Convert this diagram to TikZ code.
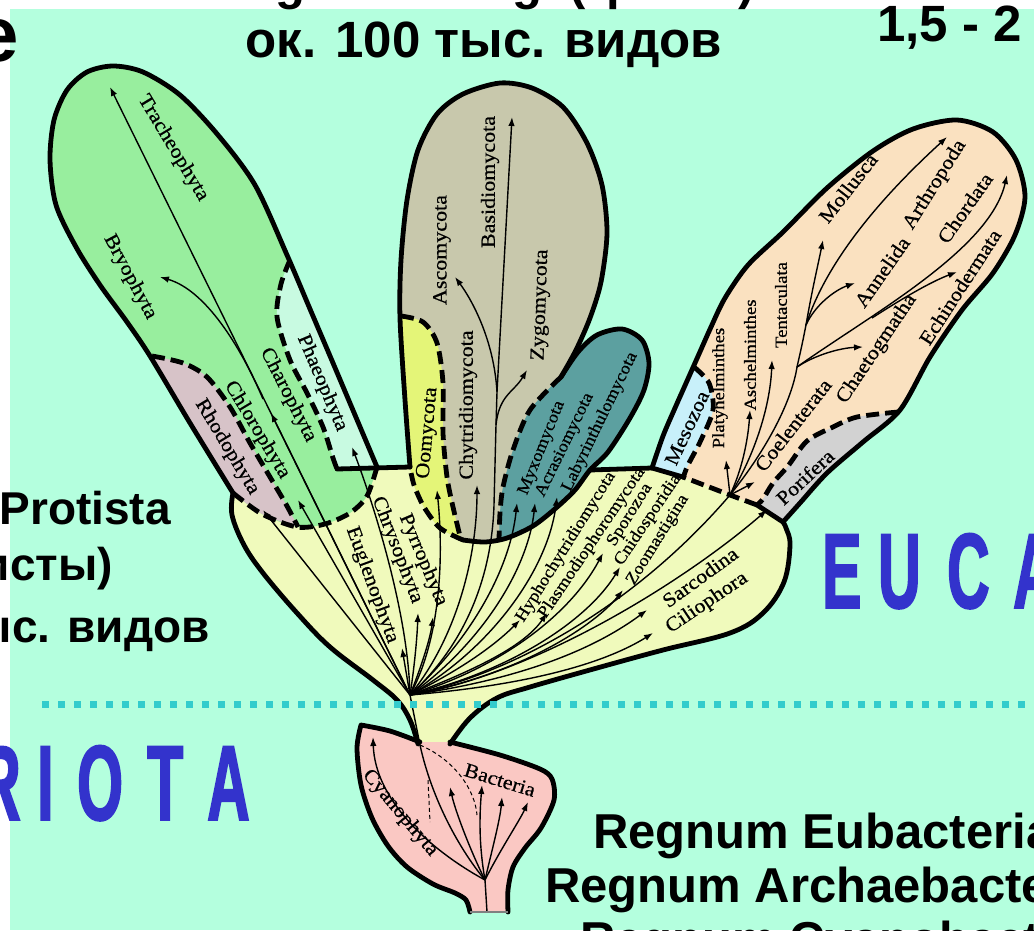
\documentclass[tikz,border=0pt]{standalone}
\usepackage{fontspec}
\setmainfont{Liberation Sans}
\newfontfamily\labfont[FakeStretch=1.1,FakeBold=0.6]{Liberation Serif}
\newfontfamily\blfont[FakeStretch=0.55,FakeBold=1.5]{Liberation Sans}
\usetikzlibrary{arrows.meta}
\definecolor{bg}{RGB}{180,255,222}
\definecolor{plantg}{RGB}{152,238,158}
\definecolor{phaeo}{RGB}{200,250,225}
\definecolor{rhodo}{RGB}{215,195,200}
\definecolor{protist}{RGB}{240,250,188}
\definecolor{oomy}{RGB}{228,245,120}
\definecolor{fungi}{RGB}{200,200,172}
\definecolor{myxo}{RGB}{92,160,160}
\definecolor{meso}{RGB}{200,240,250}
\definecolor{animal}{RGB}{250,225,192}
\definecolor{pori}{RGB}{210,210,210}
\definecolor{bact}{RGB}{250,200,195}
\definecolor{dotc}{RGB}{51,204,204}
\definecolor{eublue}{RGB}{51,51,204}
\begin{document}
\begin{tikzpicture}[x=1pt,y=-1pt,
  outl/.style={line width=4.8pt, line join=round, line cap=round},
  dsh/.style={line width=4.8pt, dash pattern=on 13pt off 6pt},
  arr/.style={line width=1.4pt, -{Latex[length=9pt,width=6.5pt]}},
  ln/.style={line width=1.4pt},
  dln/.style={line width=1pt, dash pattern=on 4pt off 3pt},
  lab/.style={font=\labfont\fontsize{20}{20}\selectfont, inner sep=0pt},
  slab/.style={font=\labfont\fontsize{17}{17}\selectfont, inner sep=0pt},
  big/.style={font=\bfseries\fontsize{49}{49}\selectfont, inner sep=0pt},
  mid/.style={font=\bfseries\fontsize{46}{46}\selectfont, inner sep=0pt},
  blu/.style={font=\blfont\bfseries\fontsize{107}{107}\selectfont, text=eublue, inner sep=0pt, anchor=base west},
]
\useasboundingbox (0,0) rectangle (1034,930);
\clip (0,0) rectangle (1034,930);
\fill[white] (0,0) rectangle (1034,930);
\fill[bg] (10,9) rectangle (1034,930);

% ---------- protist (yellow) region ----------
\fill[protist] plot[smooth,tension=0.6] coordinates {(233,493) (232,515) (244,545) (263,573) (297,613) (330,647) (373,680) (397,700) (410,720) (418,744)}
 -- plot[smooth,tension=0.6] coordinates {(450,744) (470,718) (497,698) (530,687) (597,668) (663,650) (730,633) (763,613) (784,582) (790,545) (786,528) (783,522)}
 -- (757,505) -- (683,477) -- (652,468) -- (590,470) -- (410,467) -- (377,467) -- cycle;

% ---------- plant lobe ----------
\fill[plantg] plot[smooth] coordinates {(377,467) (355,415) (333,363) (310,309) (287,255) (255,185) (218,135) (180,95) (143,72) (113,66) (87,72) (67,90) (54,120) (50,160) (56,205) (76,247) (100,285) (127,322) (150,356) (190,423) (233,493)}
 -- plot[smooth] coordinates {(233,493) (262,514) (297,527) (325,524) (350,513) (367,496) (377,467)} -- cycle;
\fill[rhodo] plot[smooth] coordinates {(152,356) (183,363) (207,377) (230,407) (250,443) (270,477) (287,506) (298,527)} -- plot[smooth] coordinates {(297,527) (262,514) (233,493)} -- (190,423) -- (150,356) -- cycle;
\fill[phaeo] plot[smooth] coordinates {(290,260) (281,284) (277,317) (290,360) (307,393) (323,427) (333,458) (337,469)} -- (377,467) -- (287,255) -- cycle;

% ---------- fungi lobe ----------
\fill[fungi] plot[smooth] coordinates {(410,467) (405,400) (400,318) (401,260) (407,200) (418,150) (437,114) (463,94) (500,83) (532,88) (563,107) (587,143) (602,185) (607,233) (601,282) (590,318) (576,350) (561,377)}
 -- plot[smooth] coordinates {(561,377) (578,352) (597,335) (622,329) (642,340) (649,363) (644,390) (630,418) (608,452) (590,470) (575,490) (556,508) (533,526) (507,538) (485,542) (463,540)}
 -- plot[smooth] coordinates {(463,540) (440,528) (424,507) (414,485) (410,467)} -- cycle;
\fill[oomy] plot[smooth] coordinates {(401,316) (423,322) (437,343) (443,383) (443,433) (447,477) (453,507) (461,540)} -- plot[smooth] coordinates {(463,540) (440,528) (424,507) (414,485) (410,467)} -- plot[smooth] coordinates {(410,467) (405,400) (400,318)} -- cycle;
\fill[myxo] plot[smooth] coordinates {(561,377) (578,352) (597,335) (622,329) (642,340) (649,363) (644,390) (630,418) (608,452) (590,470) (575,490) (556,508) (533,526) (507,538) (499,540)} -- plot[smooth] coordinates {(499,540) (500,513) (503,487) (513,450) (530,410) (561,377)} -- cycle;

% ---------- animal lobe ----------
\fill[animal] plot[smooth] coordinates {(652,468) (663,436) (675,408) (687,381) (699,354) (711,327) (725,298) (748,265) (783,232) (827,188) (873,151) (913,129) (957,120) (993,132) (1016,160) (1025,197) (1015,235) (993,273) (962,310) (930,357) (900,410) (863,442) (827,473) (800,503) (783,522)}
 -- (757,505) -- (730,495) -- (683,477) -- cycle;
\fill[meso] plot[smooth] coordinates {(694,367) (709,383) (713,410) (701,440) (688,465) (683,478)} -- (652,468) -- (663,436) -- (675,408) -- (687,381) -- cycle;
\fill[pori] plot[smooth] coordinates {(898,412) (857,417) (833,427) (807,441) (788,466) (773,483) (763,499) (757,505)} -- (783,522) -- (800,503) -- (827,473) -- (863,442) -- cycle;

% ---------- bacteria ----------
\fill[bact] plot[smooth] coordinates {(450,742) (500,755) (540,769) (552,779) (554,800) (541,828) (525,848) (513,867) (508,890) (508,912)}
 -- (470,912) -- plot[smooth] coordinates {(470,912) (466,900) (455,893) (433,884) (407,867) (388,846) (372,818) (361,785) (357,748) (361,725)}
 -- plot[smooth] coordinates {(361,725) (390,731) (420,742)} -- cycle;

% ---------- coordinates ----------
\coordinate (O) at (410,695);
\coordinate (A) at (730,495);
\coordinate (Bb) at (485,880);
\coordinate (Bbot) at (487,912);
\coordinate (St) at (420,745);
\coordinate (bBryo) at (263,399);
\coordinate (F0) at (494,505);
\coordinate (F1) at (497,392);
\coordinate (F2) at (496,425);
\coordinate (S1) at (806,325);
\coordinate (S2) at (797,367);
\coordinate (E0) at (872,318);
\coordinate (tTrach) at (110,87);
\coordinate (tBryo) at (160,277);
\coordinate (tRhodo) at (263,510);
\coordinate (tChloro) at (298,500);
\coordinate (tCharo) at (271,413);
\coordinate (tPhaeo) at (352,447);
\coordinate (tEugl) at (402,648);
\coordinate (tChrys) at (418,613);
\coordinate (tPyrr) at (433,617);
\coordinate (tOomy) at (437,490);
\coordinate (tChyt) at (477,485);
\coordinate (tBasid) at (512,117);
\coordinate (tAsco) at (455,277);
\coordinate (tZygo) at (527,370);
\coordinate (tMyxo) at (517,503);
\coordinate (tAcras) at (535,503);
\coordinate (tLaby) at (557,497);
\coordinate (tHypho) at (520,620);
\coordinate (tPlasmo) at (547,613);
\coordinate (tSporo) at (603,553);
\coordinate (tCnido) at (620,567);
\coordinate (tZoom) at (623,590);
\coordinate (tSarco) at (647,610);
\coordinate (tCilio) at (653,633);
\coordinate (tPori) at (767,510);
\coordinate (tPlaty) at (726,460);
\coordinate (tAsch) at (750,410);
\coordinate (tTent) at (772,360);
\coordinate (tCoel) at (755,482);
\coordinate (tChaet) at (863,347);
\coordinate (tMoll) at (823,240);
\coordinate (tAnne) at (855,283);
\coordinate (tArth) at (947,137);
\coordinate (tChord) at (1007,175);
\coordinate (tEchi) at (957,272);
\coordinate (tCyano) at (373,737);
\coordinate (tB1) at (450,787);
\coordinate (tB2) at (482,785);
\coordinate (tB3) at (502,797);
\coordinate (tB4) at (528,802);
\coordinate (dA) at (477,815);
\coordinate (dB) at (428,780);
\coordinate (dC) at (430,822);

% ---------- connectors ----------
\draw[arr] (O) -- (tTrach);
\draw[arr] (O) -- (tCharo);
\draw[arr] (bBryo) .. controls (240,345) and (205,290) .. (tBryo);
\draw[arr] (O) -- (tRhodo);
\draw[arr] (O) -- (tChloro);
\draw[arr] (O) .. controls (408,610) and (372,500) .. (tPhaeo);
\draw[arr] (O) -- (tEugl);
\draw[arr] (O) .. controls (414,670) and (417,640) .. (tChrys);
\draw[arr] (O) .. controls (420,670) and (430,640) .. (tPyrr);
\draw[arr] (O) .. controls (440,640) and (444,560) .. (tOomy);
\draw[arr] (O) .. controls (455,640) and (477,560) .. (tChyt);
\draw[ln] (O) .. controls (470,640) and (492,570) .. (F0) -- (F2) -- (F1);
\draw[arr] (F1) -- (tBasid);
\draw[arr] (F1) .. controls (494,340) and (472,300) .. (tAsco);
\draw[arr] (F2) .. controls (499,395) and (514,392) .. (tZygo);
\draw[arr] (O) .. controls (470,640) and (510,570) .. (tMyxo);
\draw[arr] (O) .. controls (480,645) and (528,570) .. (tAcras);
\draw[arr] (O) .. controls (490,650) and (548,570) .. (tLaby);
\draw[arr] (O) .. controls (470,665) and (500,640) .. (tHypho);
\draw[arr] (O) .. controls (480,668) and (525,645) .. (tPlasmo);
\draw[arr] (O) .. controls (500,668) and (570,615) .. (tSporo);
\draw[arr] (O) .. controls (510,672) and (588,620) .. (tCnido);
\draw[arr] (O) .. controls (520,675) and (595,625) .. (tZoom);
\draw[arr] (O) .. controls (530,678) and (600,645) .. (tSarco);
\draw[arr] (O) .. controls (540,684) and (610,660) .. (tCilio);
\draw[ln] (O) .. controls (520,672) and (640,600) .. (A);
\draw[arr] (O) .. controls (530,676) and (680,585) .. (tPori);
% animals
\draw[arr] (A) -- (tPlaty);
\draw[arr] (A) .. controls (742,470) and (748,440) .. (tAsch);
\draw[arr] (A) .. controls (752,460) and (770,410) .. (tTent);
\draw[arr] (A) -- (tCoel);
\draw[ln] (A) .. controls (768,448) and (792,400) .. (S2) .. controls (802,345) .. (S1);
\draw[arr] (S1) .. controls (812,290) and (818,265) .. (tMoll);
\draw[arr] (S1) .. controls (815,305) and (835,290) .. (tAnne);
\draw[arr] (S1) .. controls (830,250) and (900,180) .. (tArth);
\draw[arr] (S2) .. controls (815,355) and (840,348) .. (tChaet);
\draw[arr] (S2) .. controls (870,315) and (990,250) .. (tChord);
\draw[arr] (E0) .. controls (900,300) and (930,282) .. (tEchi);
% bacteria
\draw[ln] (O) -- (St) .. controls (432,800) and (460,850) .. (Bb);
\draw[ln] (Bbot) -- (Bb);
\draw[arr] (Bb) .. controls (430,850) and (375,800) .. (tCyano);
\draw[arr] (Bb) .. controls (470,850) and (455,810) .. (tB1);
\draw[arr] (Bb) .. controls (478,840) and (480,810) .. (tB2);
\draw[arr] (Bb) .. controls (492,850) and (500,820) .. (tB3);
\draw[arr] (Bb) .. controls (500,850) and (520,820) .. (tB4);
\draw[dln] (St) .. controls (455,760) and (475,790) .. (dA);
\draw[dln] (dB) -- (dC);

% ---------- outlines ----------
\draw[outl] plot[smooth,tension=0.6] coordinates {(233,493) (232,515) (244,545) (263,573) (297,613) (330,647) (373,680) (397,700) (410,720) (418,744)};
\draw[outl] plot[smooth,tension=0.6] coordinates {(450,744) (470,718) (497,698) (530,687) (597,668) (663,650) (730,633) (763,613) (784,582) (790,545) (786,528) (783,522)};
\draw[outl] (337,469) -- (410,467);
\draw[outl] (590,470) -- (652,468) -- (683,477);
\draw[outl] plot[smooth] coordinates {(377,467) (355,415) (333,363) (310,309) (287,255) (255,185) (218,135) (180,95) (143,72) (113,66) (87,72) (67,90) (54,120) (50,160) (56,205) (76,247) (100,285) (127,322) (150,356) (190,423) (233,493)};
\draw[dsh] plot[smooth] coordinates {(233,493) (262,514) (297,527) (325,524) (350,513) (367,496) (377,467)};
\draw[dsh] plot[smooth] coordinates {(152,356) (183,363) (207,377) (230,407) (250,443) (270,477) (287,506) (298,527)};
\draw[dsh] plot[smooth] coordinates {(290,260) (281,284) (277,317) (290,360) (307,393) (323,427) (333,458) (337,469)};
\draw[outl] plot[smooth] coordinates {(410,467) (405,400) (400,318) (401,260) (407,200) (418,150) (437,114) (463,94) (500,83) (532,88) (563,107) (587,143) (602,185) (607,233) (601,282) (590,318) (576,350) (561,377)};
\draw[outl] plot[smooth] coordinates {(561,377) (578,352) (597,335) (622,329) (642,340) (649,363) (644,390) (630,418) (608,452) (590,470) (575,490) (556,508) (533,526) (507,538) (485,542) (463,540)};
\draw[dsh] plot[smooth] coordinates {(463,540) (440,528) (424,507) (414,485) (410,467)};
\draw[dsh] plot[smooth] coordinates {(401,316) (423,322) (437,343) (443,383) (443,433) (447,477) (453,507) (461,540)};
\draw[dsh] plot[smooth] coordinates {(561,377) (530,410) (513,450) (503,487) (500,513) (499,540)};
\draw[outl] plot[smooth] coordinates {(652,468) (663,436) (675,408) (687,381) (699,354) (711,327) (725,298) (748,265) (783,232) (827,188) (873,151) (913,129) (957,120) (993,132) (1016,160) (1025,197) (1015,235) (993,273) (962,310) (930,357) (900,410) (863,442) (827,473) (800,503) (783,522)};
\draw[outl] (783,522) -- (757,505);
\draw[dsh] (757,505) -- (730,495) -- (683,477);
\draw[dsh] plot[smooth] coordinates {(694,367) (709,383) (713,410) (701,440) (688,465) (683,478)};
\draw[dsh] plot[smooth] coordinates {(898,412) (857,417) (833,427) (807,441) (788,466) (773,483) (763,499) (757,505)};
\draw[outl] plot[smooth] coordinates {(450,742) (500,755) (540,769) (552,779) (554,800) (541,828) (525,848) (513,867) (508,890) (508,912)};
\draw[outl] plot[smooth] coordinates {(470,912) (466,900) (455,893) (433,884) (407,867) (388,846) (372,818) (361,785) (357,748) (361,725)} -- plot[smooth] coordinates {(361,725) (390,731) (420,742)};
\draw[gray, line width=1.5pt] (470,912) -- (508,912);

% ---------- labels ----------
\node[lab, rotate=-59] (Ltrach) at (173,148) {Tracheophyta};
\node[lab, rotate=-62] (Lbryo) at (130,277) {Bryophyta};
\node[lab, rotate=-59] (Lrhodo) at (227,447) {Rhodophyta};
\node[lab, rotate=-59] (Lchloro) at (257,430) {Chlorophyta};
\node[lab, rotate=-63] (Lcharo) at (288,395) {Charophyta};
\node[lab, rotate=-67] (Lphaeo) at (322,383) {Phaeophyta};
\node[lab, rotate=-70] (Leugl) at (372,585) {Euglenophyta};
\node[lab, rotate=-69] (Lchrys) at (397,550) {Chrysophyta};
\node[lab, rotate=-67] (Lpyrr) at (423,560) {Pyrrophyta};
\node[lab, rotate=85] (Loomy) at (428,433) {Oomycota};
\node[lab, rotate=90] (Lchyt) at (468,405) {Chytridiomycota};
\node[lab, rotate=90] (Lasco) at (442,250) {Ascomycota};
\node[lab, rotate=90] (Lbasid) at (490,182) {Basidiomycota};
\node[lab, rotate=88] (Lzygo) at (541,305) {Zygomycota};
\node[slab, rotate=68] (Lmyxo) at (542,448) {Myxomycota};
\node[slab, rotate=64] (Lacras) at (565,445) {Acrasiomycota};
\node[slab, rotate=64] (Llaby) at (600,422) {Labyrinthulomycota};
\node[slab, rotate=58] (Lhypho) at (566,547) {Hyphochytridiomycota};
\node[slab, rotate=56] (Lplasmo) at (592,543) {Plasmodiophoromycota};
\node[slab, rotate=58] (Lsporo) at (630,515) {Sporozoa};
\node[slab, rotate=56] (Lcnido) at (648,520) {Cnidosporidia};
\node[slab, rotate=58] (Lzoom) at (658,540) {Zoomastigina};
\node[lab, rotate=36] (Lsarco) at (700,577) {Sarcodina};
\node[lab, rotate=34] (Lcilio) at (707,603) {Ciliophora};
\node[lab, rotate=65] (Lmeso) at (687,428) {Mesozoa};
\node[slab, rotate=90] (Lplaty) at (720,388) {Platyhelminthes};
\node[slab, rotate=90] (Lasch) at (750,355) {Aschelminthes};
\node[slab, rotate=90] (Ltent) at (781,305) {Tentaculata};
\node[lab, rotate=52] (Lcoel) at (793,425) {Coelenterata};
\node[lab, rotate=56] (Lchaet) at (877,349) {Chaetogmatha};
\node[lab, rotate=43] (Lpori) at (805,477) {Porifera};
\node[lab, rotate=52] (Lmoll) at (848,188) {Mollusca};
\node[lab, rotate=55] (Lanne) at (882,272) {Annelida};
\node[lab, rotate=58] (Larth) at (935,185) {Arthropoda};
\node[lab, rotate=55] (Lchord) at (965,208) {Chordata};
\node[lab, rotate=57] (Lechi) at (960,287) {Echinodermata};
\node[lab, rotate=-17] (Lbact) at (500,780) {Bacteria};
\node[lab, rotate=-50] (Lcyano) at (400,813) {Cyanophyta};

% ---------- slide texts ----------
\node[big, anchor=base] (t1) at (484,-1) {Regnum Fungi (грибы)};
\node[font=\bfseries\fontsize{51}{51}\selectfont, inner sep=0pt, anchor=base] (t2) at (484,57) {ок. 100 тыс. видов};
\node[font=\bfseries\fontsize{51}{51}\selectfont, inner sep=0pt, anchor=base west] (t3) at (877,41) {1,5 - 2 млн. видов};
\node[font=\bfseries\fontsize{78}{78}\selectfont, inner sep=0pt, anchor=base east] (t4) at (19,61) {Regnum Plantae};
\node[mid, anchor=base east] (t5) at (171,524) {Regnum Protista};
\node[mid, anchor=base east] (t6) at (113,580) {(протисты)};
\node[mid, anchor=base east] (t7) at (210,642) {ок. 30 тыс. видов};
\node[big, anchor=base west] (t8) at (593,848) {Regnum Eubacteria};
\node[big, anchor=base west] (t9) at (545,902) {Regnum Archaebacteria};
\node[big, anchor=base west] (t10) at (580,956) {Regnum Cyanobacteria};
\node[blu] (bE) at (822,608) {E};
\node[blu] (bU) at (878,608) {U};
\node[blu] (bC) at (947,608) {C};
\node[blu] (bA) at (1013,608) {A};
\node[blu] (bR) at (-22,820) {R};
\node[blu] (bI) at (37,820) {I};
\node[blu] (bO) at (77,820) {O};
\node[blu] (bT) at (147,820) {T};
\node[blu] (bA2) at (207,820) {A};

% ---------- dotted separator ----------
\coordinate (dl) at (42,704);
\coordinate (dr) at (1040,704);
\draw[dotc, line width=7pt, dash pattern=on 7pt off 9pt] (dl) -- (dr);
\end{tikzpicture}
\end{document}
